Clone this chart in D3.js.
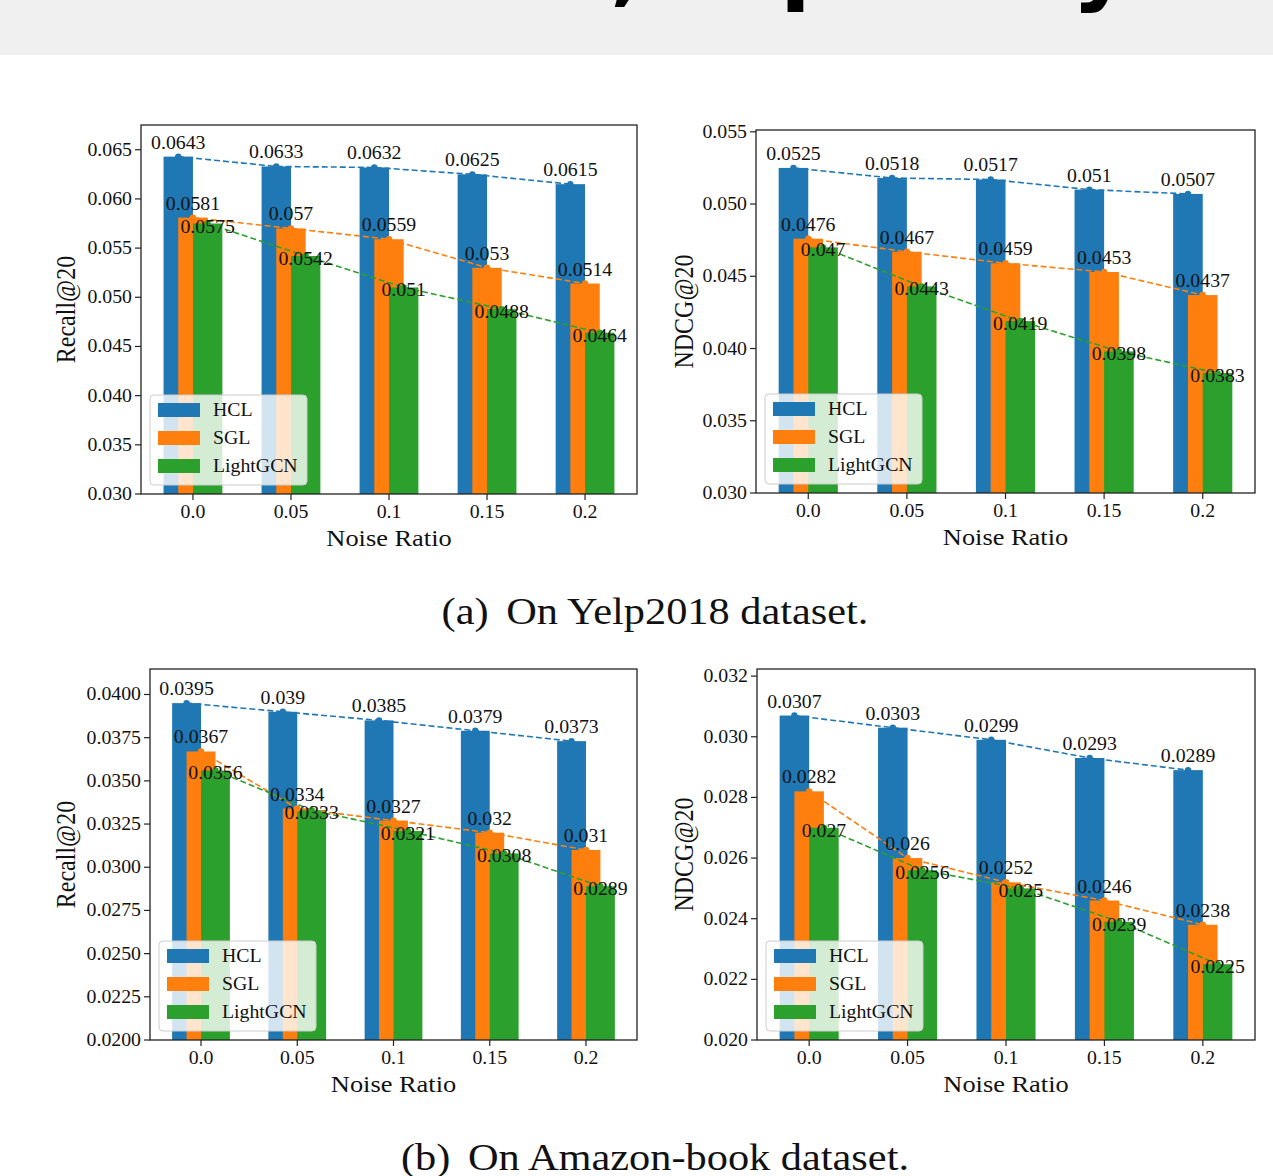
<!DOCTYPE html>
<html>
<head>
<meta charset="utf-8">
<script src="https://cdn.jsdelivr.net/npm/d3@7"></script>
<style>
  body { margin: 0; background: #fff; }
  svg { display: block; }
</style>
</head>
<body>
<div id="chart"></div>
<script>

let W = 1273;
let H = 1176;

// x categories (noise ratio) and legend names
let noise = ["0.0", "0.05", "0.1", "0.15", "0.2"];
let methods = ["HCL", "SGL", "LightGCN"];
let colors = ["#1f77b4", "#ff7f0e", "#2ca02c"];

// Yelp2018, Recall@20
let yelpRecallHCL = [0.0643, 0.0633, 0.0632, 0.0625, 0.0615];
let yelpRecallSGL = [0.0581, 0.057, 0.0559, 0.053, 0.0514];
let yelpRecallLGCN = [0.0575, 0.0542, 0.051, 0.0488, 0.0464];

// Yelp2018, NDCG@20
let yelpNdcgHCL = [0.0525, 0.0518, 0.0517, 0.051, 0.0507];
let yelpNdcgSGL = [0.0476, 0.0467, 0.0459, 0.0453, 0.0437];
let yelpNdcgLGCN = [0.047, 0.0443, 0.0419, 0.0398, 0.0383];

// Amazon-book, Recall@20
let amazonRecallHCL = [0.0395, 0.039, 0.0385, 0.0379, 0.0373];
let amazonRecallSGL = [0.0367, 0.0334, 0.0327, 0.032, 0.031];
let amazonRecallLGCN = [0.0356, 0.0333, 0.0321, 0.0308, 0.0289];

// Amazon-book, NDCG@20
let amazonNdcgHCL = [0.0307, 0.0303, 0.0299, 0.0293, 0.0289];
let amazonNdcgSGL = [0.0282, 0.026, 0.0252, 0.0246, 0.0238];
let amazonNdcgLGCN = [0.027, 0.0256, 0.025, 0.0239, 0.0225];

// y tick values
let yelpRecallTicks = [0.030, 0.035, 0.040, 0.045, 0.050, 0.055, 0.060, 0.065];
let yelpNdcgTicks = [0.030, 0.035, 0.040, 0.045, 0.050, 0.055];
let amazonRecallTicks = [0.0200, 0.0225, 0.0250, 0.0275, 0.0300, 0.0325, 0.0350, 0.0375, 0.0400];
let amazonNdcgTicks = [0.020, 0.022, 0.024, 0.026, 0.028, 0.030, 0.032];

let captions = [["(a)", "On Yelp2018 dataset."], ["(b)", "On Amazon-book dataset."]];

let panels = [
	{ series: [yelpRecallHCL, yelpRecallSGL, yelpRecallLGCN], ymin: 0.03, ticks: yelpRecallTicks, fmt: ".3f",
	  ylabel: "Recall@20", left: 141, right: 637, top: 125, bottom: 494, ylabX: 67 },
	{ series: [yelpNdcgHCL, yelpNdcgSGL, yelpNdcgLGCN], ymin: 0.03, ticks: yelpNdcgTicks, fmt: ".3f",
	  ylabel: "NDCG@20", left: 756, right: 1255, top: 130, bottom: 493, ylabX: 685 },
	{ series: [amazonRecallHCL, amazonRecallSGL, amazonRecallLGCN], ymin: 0.02, ticks: amazonRecallTicks, fmt: ".4f",
	  ylabel: "Recall@20", left: 150, right: 637, top: 669, bottom: 1040, ylabX: 67 },
	{ series: [amazonNdcgHCL, amazonNdcgSGL, amazonNdcgLGCN], ymin: 0.02, ticks: amazonNdcgTicks, fmt: ".3f",
	  ylabel: "NDCG@20", left: 757, right: 1255, top: 669, bottom: 1040, ylabX: 685 }
];

let serif = "'Liberation Serif', 'Times New Roman', serif";
let SX = 1.1; // the screenshot is a bit stretched sideways
let offsets = [-0.15, 0, 0.15];
let barW = 0.3;

let svg = d3.select("#chart").append("svg")
	.attr("width", W)
	.attr("height", H)
	.style("background-color", "white");

// grey banner at the top (slide title, only its descenders show)
svg.append("rect").attr("x", 0).attr("y", 0).attr("width", W).attr("height", 55).attr("fill", "#f0f0f0");
let bannerBits = [["g", 448, -20], [",", 610, -6], ["p", 780, -7], ["y", 1072, -7]];
bannerBits.forEach(function(b){
	svg.append("text").attr("x", b[1]).attr("y", b[2])
		.attr("font-family", "'DejaVu Sans', sans-serif").attr("font-weight", "bold")
		.attr("font-size", 90).attr("fill", "#000").text(b[0]);
});

function txt(g, x, y, str, size, anchor, rot){
	let t = g.append("text")
		.attr("transform", "translate(" + x + "," + y + ") scale(" + SX + ",1)" + (rot ? " rotate(" + rot + ")" : ""))
		.attr("font-family", serif)
		.attr("font-size", size)
		.attr("fill", "#111")
		.attr("text-anchor", anchor || "start")
		.text(str);
	return t;
}

function drawPanel(p){
	let g = svg.append("g");
	let ymax = d3.max(p.series[0]) * 1.05;
	let x = d3.scaleLinear().domain([-0.53, 4.53]).range([p.left, p.right]);
	let y = d3.scaleLinear().domain([p.ymin, ymax]).range([p.bottom, p.top]);

	let clip = "clip" + p.left + "_" + p.top;
	g.append("clipPath").attr("id", clip).append("rect")
		.attr("x", p.left).attr("y", p.top).attr("width", p.right - p.left).attr("height", p.bottom - p.top);

	let plot = g.append("g").attr("clip-path", "url(#" + clip + ")");

	// bars, drawn series by series so each one sits over the previous
	p.series.forEach(function(vals, s){
		plot.selectAll(".bar" + s).data(vals).enter().append("rect")
			.attr("x", function(d, i){ return x(i + offsets[s] - barW / 2); })
			.attr("width", x(barW) - x(0))
			.attr("y", function(d){ return y(d); })
			.attr("height", function(d){ return p.bottom - y(d); })
			.attr("fill", colors[s]);
	});

	// dashed trend lines with markers
	p.series.forEach(function(vals, s){
		let line = d3.line()
			.x(function(d, i){ return x(i + offsets[s]); })
			.y(function(d){ return y(d); });
		plot.append("path").datum(vals)
			.attr("d", line)
			.attr("fill", "none")
			.attr("stroke", colors[s])
			.attr("stroke-width", 1.6)
			.attr("stroke-dasharray", "6,3");
		plot.selectAll(".dot" + s).data(vals).enter().append("circle")
			.attr("cx", function(d, i){ return x(i + offsets[s]); })
			.attr("cy", function(d){ return y(d); })
			.attr("r", 3.2)
			.attr("fill", colors[s]);
	});

	// value labels
	p.series.forEach(function(vals, s){
		vals.forEach(function(d, i){
			let dy = (s == 2) ? 9 : -8;
			txt(g, x(i + offsets[s]), y(d) + dy, String(d), 18, "middle");
		});
	});

	// frame
	g.append("rect")
		.attr("x", p.left).attr("y", p.top)
		.attr("width", p.right - p.left).attr("height", p.bottom - p.top)
		.attr("fill", "none").attr("stroke", "#222").attr("stroke-width", 1.3);

	// y ticks
	let fmt = d3.format(p.fmt);
	p.ticks.forEach(function(t){
		g.append("line").attr("x1", p.left - 6).attr("x2", p.left).attr("y1", y(t)).attr("y2", y(t))
			.attr("stroke", "#222").attr("stroke-width", 1.2);
		txt(g, p.left - 9, y(t) + 6, fmt(t), 18, "end");
	});

	// x ticks
	noise.forEach(function(lab, i){
		g.append("line").attr("x1", x(i)).attr("x2", x(i)).attr("y1", p.bottom).attr("y2", p.bottom + 6)
			.attr("stroke", "#222").attr("stroke-width", 1.2);
		txt(g, x(i), p.bottom + 24, lab, 18, "middle");
	});

	// axis titles
	txt(g, (p.left + p.right) / 2, p.bottom + 52, "Noise Ratio", 24, "middle");
	txt(g, p.ylabX + 8, (p.top + p.bottom) / 2, p.ylabel, 24, "middle", -90);

	// legend
	let lx = p.left + 9;
	let ly = p.bottom - 99;
	let leg = g.append("g");
	leg.append("rect")
		.attr("x", lx).attr("y", ly).attr("width", 157).attr("height", 90)
		.attr("rx", 4)
		.attr("fill", "white").attr("fill-opacity", 0.8)
		.attr("stroke", "#cccccc").attr("stroke-width", 1);
	methods.forEach(function(m, k){
		let cy = ly + 15 + k * 28;
		leg.append("rect").attr("x", lx + 8).attr("y", cy - 7).attr("width", 42).attr("height", 14)
			.attr("fill", colors[k]);
		txt(leg, lx + 63, cy + 6, m, 18, "start");
	});
}

panels.forEach(drawPanel);

// sub-figure captions
let capY = [624, 1170];
captions.forEach(function(c, k){
	let t = svg.append("text")
		.attr("transform", "translate(655," + capY[k] + ") scale(" + SX + ",1)")
		.attr("font-family", serif)
		.attr("font-size", 38.5)
		.attr("fill", "#111")
		.attr("text-anchor", "middle");
	t.append("tspan").text(c[0]);
	t.append("tspan").attr("dx", 16).text(c[1]);
});

</script>
</body>
</html>
